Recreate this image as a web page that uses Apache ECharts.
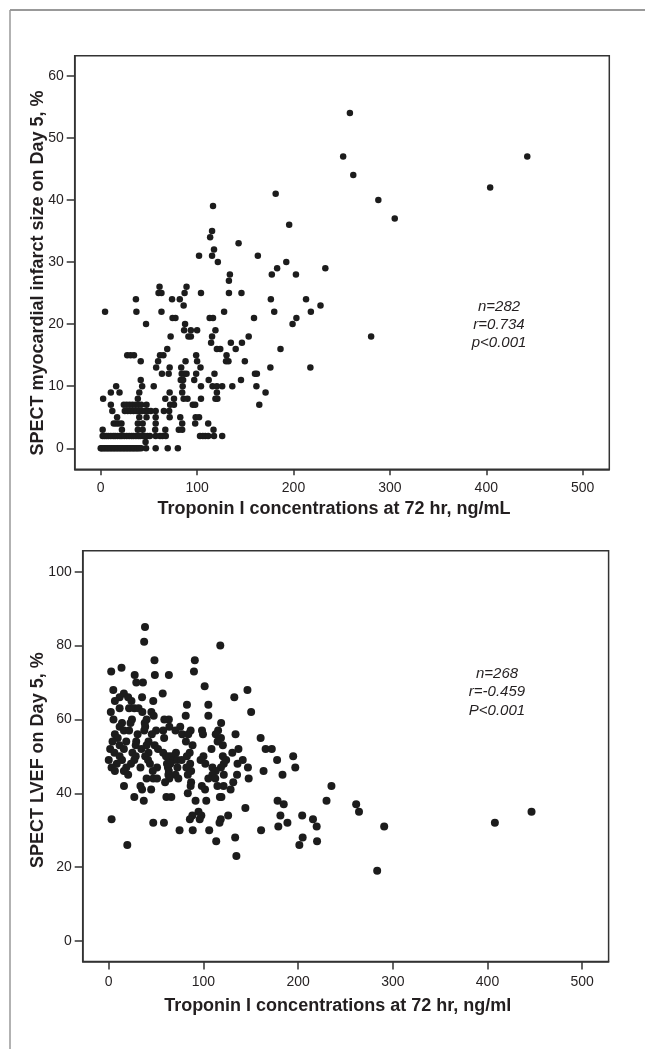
<!DOCTYPE html>
<html>
<head>
<meta charset="utf-8">
<script src="https://cdn.jsdelivr.net/npm/echarts@6/dist/echarts.min.js"></script>
<style>
html,body{margin:0;padding:0;background:#fff;}
#chart{width:645px;height:1049px;}
</style>
</head>
<body>
<div id="chart"></div>
<script>
// ---- Data ----
// Top panel: [Troponin I at 72 hr (ng/mL), SPECT infarct size on Day 5 (%)]
const infarctPoints = [
  [0,0],[1,0],[2.5,0],[4,0],[5.5,0],[7,0],[8.5,0],[10,0],[11.5,0],[13,0],[14.5,0],[16,0],[17.5,0],[19,0],[20.5,0],[22,0],[23.5,0],[25,0],[26.5,0],[28,0],[29.5,0],[31,0],[32.5,0],[34,0],[35.5,0],[37,0],[38.5,0],[40,0],[42,0],[47,0],[57,0],[69.5,0],[80,0],
  [46.5,1],
  [2,2],[4,2],[6,2],[8,2],[10.5,2],[13,2],[15,2],[17.5,2],[20,2],[22,2],[24.5,2],[27,2],[29.5,2],[32,2],[34,2],[36.5,2],[39,2],[41,2],[43.5,2],[46,2],[48.5,2],[51,2],[57,2],[61.5,2],[64,2],[67.5,2],[103,2],[106,2],[108.5,2],[111.5,2],[117.5,2],[126,2],
  [2,3],[22,3],[38.5,3],[43.5,3],[56.5,3],[67,3],[81,3],[84.5,3],[117,3],
  [13.5,4],[16,4],[18.5,4],[21.5,4],[38.5,4],[43.5,4],[57,4],[84.5,4],[98,4],[111.5,4],
  [17,5],[40,5],[47.5,5],[57,5],[71.5,5],[82.5,5],[98.5,5],[102,5],
  [12,6],[25,6],[28,6],[31,6],[34,6],[37,6],[40,6],[43,6],[46,6],[49,6],[52,6],[57,6],[65.5,6],[71,6],
  [10.5,7],[24,7],[27,7],[30,7],[33,7],[36,7],[39,7],[42,7],[47.5,7],[72,7],[76,7],[95.5,7],[98,7],[164.5,7],
  [2.5,8],[38.5,8],[67,8],[76,8],[86,8],[90,8],[104,8],[119,8],[121,8],
  [10.5,9],[19.5,9],[40,9],[71.5,9],[84.5,9],[120.5,9],[171,9],
  [16,10],[43,10],[55,10],[85,10],[104,10],[116,10],[120.5,10],[126,10],[136.5,10],[161.5,10],
  [41.5,11],[83,11],[85.5,11],[97,11],[112,11],[145.5,11],
  [63.5,12],[70.5,12],[84,12],[86.5,12],[89,12],[99,12],[118,12],[160,12],[162,12],
  [57.5,13],[71.5,13],[83.5,13],[103.5,13],[176,13],[217.5,13],
  [41.5,14],[59.5,14],[88,14],[100,14],[130,14],[132.5,14],[149.5,14],
  [27.5,15],[31,15],[34.5,15],[61.5,15],[65,15],[99,15],[130.5,15],
  [69,16],[120.5,16],[124,16],[140,16],[186.5,16],
  [114.5,17],[135,17],[146.5,17],
  [72.5,18],[91,18],[93.5,18],[115.5,18],[153.5,18],[280.5,18],
  [86.5,19],[93.5,19],[100,19],[119,19],
  [47,20],[87.5,20],[199,20],
  [74.5,21],[77.5,21],[113,21],[116.5,21],[159,21],[203,21],
  [4.5,22],[37,22],[63,22],[128,22],[180,22],[218,22],
  [86,23],[228,23],
  [36.5,24],[74,24],[82,24],[176.5,24],[213,24],
  [60,25],[63,25],[87,25],[104,25],[133,25],[146,25],
  [61,26],[89,26],
  [133,27],
  [134,28],[177.5,28],[202.5,28],
  [183,29],[233,29],
  [121.5,30],[192.5,30],
  [102,31],[115.5,31],[163,31],
  [117.5,32],[143,33],[113.5,34],[115.5,35],[195.5,36],[305,37],[116.5,39],[288,40],[181.5,41],[404,42],[262,44],[251.5,47],[442.5,47],[258.5,54]
];
// Bottom panel: [Troponin I at 72 hr (ng/ml), SPECT LVEF on Day 5 (%)]
const lvefPoints = [
  [38.3,85],[37.4,81],[117.8,80],[48.3,76],[90.9,76],[13.5,74],[2.6,73],[90,73],[27.4,72],[48.7,72],[63.5,72],
  [29.1,70],[36.1,70],[101.3,69],[4.8,68],[146.5,68],[57,67],[16,67],[132.6,66],[35.2,66],[20.5,66],[11.5,66],
  [47,65],[6.5,65],[24,65],[105.2,64],[82.6,64],[21.5,63],[27,63],[31.5,63],[11.5,63],
  [150.4,62],[2.2,62],[35.5,62],[45,62],[105.2,61],[81.3,61],[47.5,61],
  [63.5,60],[58.7,60],[5,60],[24.5,60],[40,60],[118.7,59],[14,59],[23,59],[38,59],
  [11.5,58],[38.5,58],[64,58],[75.5,58],
  [16,57],[21.5,57],[37.5,57],[50,57],[57.5,57],[70.5,57],[86.5,57],[98.5,57],[115.5,57],
  [133.9,56],[6.5,56],[30.5,56],[45.5,56],[77.5,56],[84,56],[99.5,56],[113,56],
  [160.4,55],[9.5,55],[58.5,55],[118.5,55],
  [4,54],[18.5,54],[29,54],[42,54],[81.5,54],[115,54],
  [11.5,53],[28.5,53],[40,53],[48.5,53],[88.5,53],[120.5,53],
  [165.7,52],[172.2,52],[137,52],[1.5,52],[16,52],[34.5,52],[52,52],[108.5,52],
  [6,51],[25,51],[42,51],[57.5,51],[71,51],[85.5,51],[130.5,51],
  [194.8,50],[11.5,50],[28.5,50],[38.5,50],[60.5,50],[64,50],[67.5,50],[82.5,50],[100,50],[120.5,50],
  [177.8,49],[0,49],[14,49],[27,49],[41.5,49],[68.5,49],[72.5,49],[77,49],[97,49],[124,49],[141.5,49],
  [8.5,48],[23.5,48],[43.5,48],[61.5,48],[65,48],[86,48],[102,48],[121.5,48],[136,48],
  [197,47],[147,47],[3,47],[18.5,47],[33.5,47],[51,47],[62.5,47],[72.5,47],[82,47],[109.5,47],[118.5,47],
  [163.5,46],[6.5,46],[16,46],[46.5,46],[63.5,46],[87,46],[113,46],
  [183.5,45],[20.5,45],[63,45],[70.5,45],[83.5,45],[109.5,45],[121.5,45],[135.5,45],
  [147.8,44],[105.2,44],[40,44],[47,44],[51,44],[64,44],[73.5,44],[112.5,44],
  [87,43],[131.5,43],[59.5,43],
  [235.2,42],[33.5,42],[16.1,42],[98.3,42],[86.5,42],[121.3,42],[114.8,42],
  [128.7,41],[44.8,41],[35.2,41],[101.7,41],[83.5,40],
  [27,39],[60.9,39],[66.1,39],[119,39],[117.4,39],
  [178.3,38],[230,38],[37,38],[91.7,38],[103,38],
  [184.8,37],[261.3,37],[144.3,36],[264.3,35],[446.5,35],[94.8,35],
  [126.1,34],[181.3,34],[204.3,34],[97.8,34],[88.3,34],
  [215.7,33],[3,33],[96.1,33],[85.7,33],[118.3,33],
  [407.8,32],[188.7,32],[47,32],[58.3,32],[117,32],
  [290.9,31],[219.6,31],[179.1,31],
  [160.9,30],[74.8,30],[88.7,30],[106.1,30],
  [204.8,28],[133.5,28],[113.5,27],[220,27],[201.3,26],[19.6,26],[134.8,23],[283.5,19]
];
const xTickValues = [0, 100, 200, 300, 400, 500];
const infarctTickValues = [0, 10, 20, 30, 40, 50, 60];
const lvefTickValues = [0, 20, 40, 60, 80, 100];
const infarctStats = ['n=282', 'r=0.734', 'p<0.001'];
const lvefStats = ['n=268', 'r=-0.459', 'P<0.001'];

// ---- Chart ----
const FONT = '"Liberation Sans", Arial, sans-serif';
const INK = '#231f20';
const chart = echarts.init(document.getElementById('chart'), null, {renderer: 'canvas'});

function xAxisCfg(gridIndex, min, max, name, tickLen, labelMargin, nameGap) {
  return {
    type: 'value', gridIndex, min, max, name, nameLocation: 'middle', nameGap, nameMoveOverlap: false,
    nameTextStyle: {fontFamily: FONT, fontWeight: 'bold', fontSize: 18, color: INK, padding: [0, 16, 0, 0]},
    axisLine: {show: true, onZero: false, lineStyle: {color: '#333', width: 1.5}},
    axisTick: {show: true, length: tickLen, customValues: xTickValues, lineStyle: {color: '#333', width: 1.5}},
    axisLabel: {customValues: xTickValues, fontFamily: FONT, fontSize: 14, color: INK, margin: labelMargin},
    splitLine: {show: false}
  };
}
function yAxisCfg(gridIndex, min, max, name, ticks, nameGap, pad) {
  return {
    type: 'value', gridIndex, min, max, name, nameLocation: 'middle', nameGap, nameMoveOverlap: false,
    nameTextStyle: {fontFamily: FONT, fontWeight: 'bold', fontSize: 18, color: INK, padding: pad},
    axisLine: {show: true, onZero: false, lineStyle: {color: '#333', width: 1.5}},
    axisTick: {show: true, length: 8, customValues: ticks, lineStyle: {color: '#333', width: 1.5}},
    axisLabel: {customValues: ticks, fontFamily: FONT, fontSize: 14, color: INK, margin: 11},
    splitLine: {show: false}
  };
}

const option = {
  backgroundColor: '#fff',
  animation: false,
  grid: [
    {left: 74.7, top: 55.7, width: 534.6, height: 413.6, show: true, borderColor: '#333', borderWidth: 1.5, containLabel: false},
    {left: 82.7, top: 550.8, width: 525.9, height: 410.8, show: true, borderColor: '#333', borderWidth: 1.5, containLabel: false}
  ],
  xAxis: [
    xAxisCfg(0, -27, 527.6, 'Troponin I concentrations at 72 hr, ng/mL', 6, 12, 31),
    xAxisCfg(1, -27.5, 527.9, 'Troponin I concentrations at 72 hr, ng/ml', 8, 14, 35)
  ],
  yAxis: [
    yAxisCfg(0, -3.38, 63.22, 'SPECT myocardial infarct size on Day 5, %', infarctTickValues, 28, [0, 21, 0, 0]),
    yAxisCfg(1, -5.58, 105.66, 'SPECT LVEF on Day 5, %', lvefTickValues, 36, [0, 8, 0, 0])
  ],
  series: [
    {type: 'scatter', xAxisIndex: 0, yAxisIndex: 0, data: infarctPoints, symbol: 'circle', symbolSize: 6.5,
     itemStyle: {color: '#1c1c1c', opacity: 1}},
    {type: 'scatter', xAxisIndex: 1, yAxisIndex: 1, data: lvefPoints, symbol: 'circle', symbolSize: 8,
     itemStyle: {color: '#1c1c1c', opacity: 1}}
  ],
  graphic: [
    {type: 'line', shape: {x1: 10, y1: 10, x2: 645, y2: 10}, style: {stroke: '#777', lineWidth: 1.5}, silent: true},
    {type: 'line', shape: {x1: 10, y1: 10, x2: 10, y2: 1049}, style: {stroke: '#999', lineWidth: 1.5}, silent: true},
    {type: 'text', x: 499, y: 325, silent: true,
     style: {text: infarctStats.join('\n'), font: 'italic 15px ' + FONT, lineHeight: 18.3,
             fill: INK, align: 'center', verticalAlign: 'middle'}},
    {type: 'text', x: 497, y: 692, silent: true,
     style: {text: lvefStats.join('\n'), font: 'italic 15px ' + FONT, lineHeight: 18.5,
             fill: INK, align: 'center', verticalAlign: 'middle'}}
  ]
};
chart.setOption(option);
</script>
</body>
</html>
